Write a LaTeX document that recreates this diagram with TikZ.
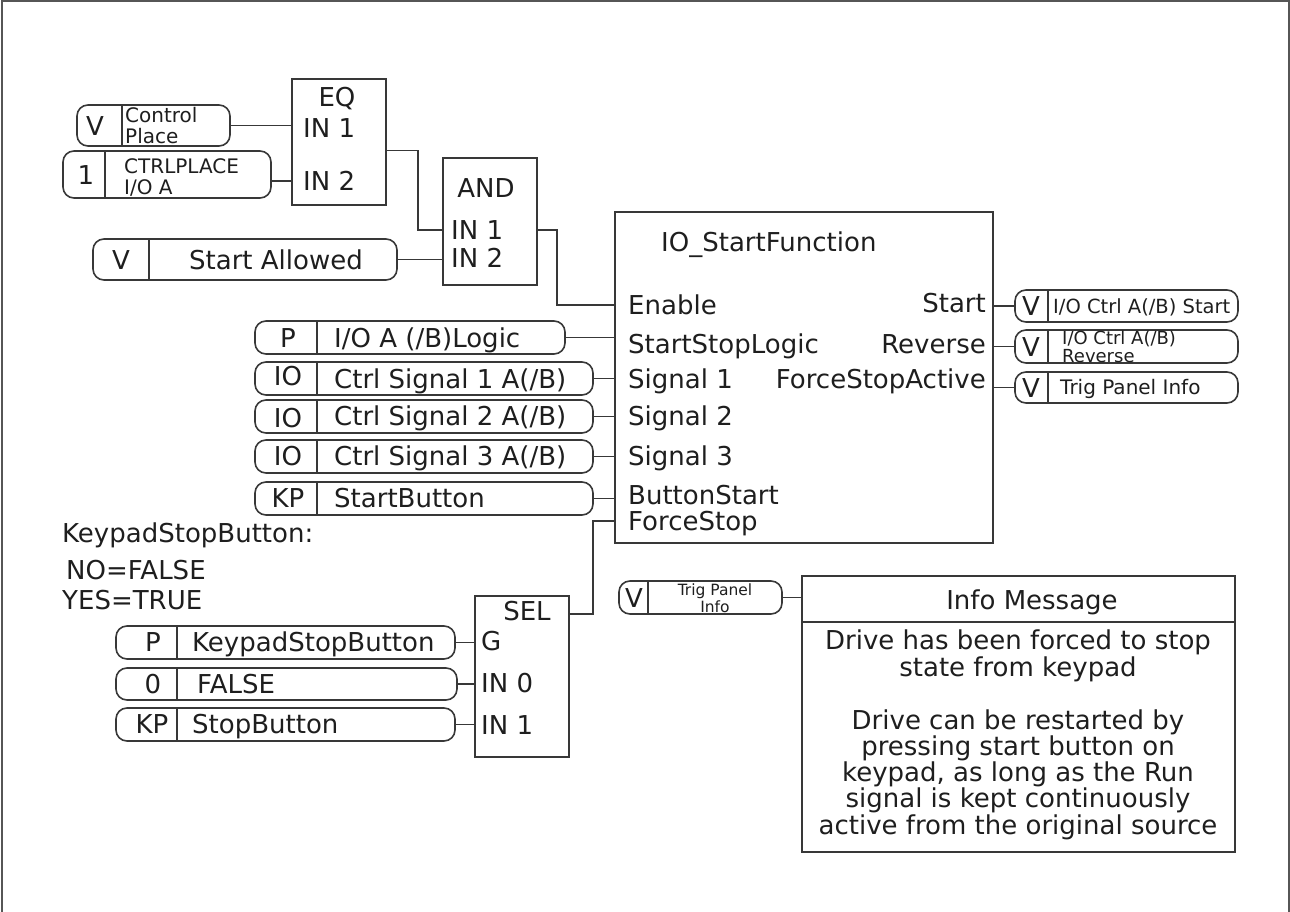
\documentclass[tikz,border=0pt]{standalone}
\usepackage{fontspec}
\setmainfont{DejaVu Sans}
\usetikzlibrary{calc}
\definecolor{ink}{HTML}{1E1E1E}
\definecolor{ln}{HTML}{383838}
\newcommand\fmain{\fontsize{26}{26}\selectfont}
\newcommand\fsmall{\fontsize{20}{20}\selectfont}
\newcommand\frev{\fontsize{18}{18}\selectfont}
\newcommand\fmid{\fontsize{19.5}{20}\selectfont}
\newcommand\ftiny{\fontsize{15.5}{15.5}\selectfont}
\newcommand\bx[6]{\node[#6, minimum width={#4-#2}, minimum height={#5-#3}] (#1) at ({(#2+#4)/2},{(#3+#5)/2}) {};}
\newcommand\pil[6]{\bx{#1}{#2}{#3}{#4}{#5}{pill}\draw[pl] ([xshift=#6pt]#1.north west) -- ([xshift=#6pt]#1.south west);}
\begin{document}
\begin{tikzpicture}[x=1pt,y=-1pt,
  blk/.style={draw=ln, line width=2.2pt, inner sep=0pt, outer sep=0pt},
  infobox/.style={draw=ln, line width=1.8pt, inner sep=0pt, outer sep=0pt},
  pill/.style={draw=ln, line width=1.6pt, rounded corners=11pt, inner sep=0pt, outer sep=0pt},
  wire/.style={draw=ln, line width=1.7pt},
  pl/.style={draw=ln, line width=1.3pt},
  frame/.style={draw=ln!85, line width=2pt},
  lbl/.style={inner sep=0pt, font=\fmain, text=ink, text height=19pt, text depth=0pt},
  slbl/.style={inner sep=0pt, font=\fsmall, text=ink, text height=14.5pt, text depth=0pt},
  rlbl/.style={inner sep=0pt, font=\frev, text=ink, text height=13.1pt, text depth=0pt},
  mlbl/.style={inner sep=0pt, font=\fmid, text=ink, text height=14.2pt, text depth=0pt},
  tlbl/.style={inner sep=0pt, font=\ftiny, text=ink, text height=11.3pt, text depth=0pt}]
\useasboundingbox (0,0) rectangle (1290,912);
\draw[frame] (1.5,912) -- (1.5,1.5) -- (1288.5,1.5) -- (1288.5,912);

% ---------- EQ block ----------
\bx{eq}{292}{79}{386}{205}{blk}
\node[lbl] (eqt) at (337,97) {EQ};
\node[lbl, anchor=west] (eqi1) at (303,128) {IN 1};
\node[lbl, anchor=west] (eqi2) at (303,181) {IN 2};

\pil{cp}{77}{105}{230}{146}{45}
\node[lbl] (cpt) at (95,126) {V};
\node[slbl, anchor=west] (cpl1) at (125,115.5) {Control};
\node[slbl, anchor=west] (cpl2) at (125,136.5) {Place};

\pil{cc}{63}{151}{271}{198}{42}
\node[lbl] (cct) at (86,175) {1};
\node[slbl, anchor=west] (ccl1) at (124,166.5) {CTRLPLACE};
\node[slbl, anchor=west] (ccl2) at (124,187.5) {I/O A};

\draw[wire] (cp.east) -- (cp.east -| eq.west);
\draw[wire] (cc.east |- eqi2.west) -- (eq.west |- eqi2.west);

% ---------- AND block ----------
\bx{and}{443}{158}{537}{285}{blk}
\node[lbl] (andt) at (486,188) {AND};
\node[lbl, anchor=west] (andi1) at (451,230) {IN 1};
\node[lbl, anchor=west] (andi2) at (451,258) {IN 2};

\pil{sa}{93}{239}{397}{280}{56}
\node[lbl] (sat) at (121,260) {V};
\node[lbl] (sal) at (276,260) {Start Allowed};

\draw[wire] ([yshift=-8.5pt]eq.east) -- ++(32,0) |- (and.west |- andi1.west);
\draw[wire] (sa.east) -- (sa.east -| and.west);

% ---------- IO_StartFunction ----------
\bx{io}{615}{212}{993}{543}{blk}
\node[lbl, anchor=west] (iot) at (661,242) {IO\_StartFunction};
\node[lbl, anchor=west] (ien) at (628,305) {Enable};
\node[lbl, anchor=west] (issl) at (628,344) {StartStopLogic};
\node[lbl, anchor=west] (is1) at (628,379) {Signal 1};
\node[lbl, anchor=west] (is2) at (628,416) {Signal 2};
\node[lbl, anchor=west] (is3) at (628,456) {Signal 3};
\node[lbl, anchor=west] (ibs) at (628,495) {ButtonStart};
\node[lbl, anchor=west] (ifs) at (628,521) {ForceStop};
\node[lbl, anchor=east] (ost) at (986,303) {Start};
\node[lbl, anchor=east] (orv) at (986,344) {Reverse};
\node[lbl, anchor=east] (ofa) at (986,379) {ForceStopActive};

\draw[wire] (and.east |- andi1.west) -- ++(20,0) |- (io.west |- ien.west);

% inputs
\pil{pl1}{255}{321}{565}{354}{62}
\node[lbl] (pl1t) at (288,338) {P};
\node[lbl, anchor=west] (pl1l) at (334,338) {I/O A (/B)Logic};
\pil{ps1}{255}{362}{593}{395}{62}
\node[lbl] (ps1t) at (288,376) {IO};
\node[lbl, anchor=west] (ps1l) at (334,379) {Ctrl Signal 1 A(/B)};
\pil{ps2}{255}{400}{593}{433}{62}
\node[lbl] (ps2t) at (288,418) {IO};
\node[lbl, anchor=west] (ps2l) at (334,416) {Ctrl Signal 2 A(/B)};
\pil{ps3}{255}{440}{593}{473}{62}
\node[lbl] (ps3t) at (288,456) {IO};
\node[lbl, anchor=west] (ps3l) at (334,456) {Ctrl Signal 3 A(/B)};
\pil{pkb}{255}{482}{593}{515}{62}
\node[lbl] (pkbt) at (288,498) {KP};
\node[lbl, anchor=west] (pkbl) at (334,498) {StartButton};

\draw[wire] (pl1.east) -- (pl1.east -| io.west);
\draw[wire] (ps1.east) -- (ps1.east -| io.west);
\draw[wire] (ps2.east) -- (ps2.east -| io.west);
\draw[wire] (ps3.east) -- (ps3.east -| io.west);
\draw[wire] (pkb.east) -- (pkb.east -| io.west);

% outputs
\pil{po1}{1015}{290}{1238}{322}{33}
\node[lbl] (po1t) at (1031,306) {V};
\node[mlbl, anchor=west] (po1l) at (1053,306) {I/O Ctrl A(/B) Start};
\pil{po2}{1015}{330}{1238}{363}{33}
\node[lbl] (po2t) at (1031,347) {V};
\node[rlbl, anchor=west] (po2l1) at (1062,337.5) {I/O Ctrl A(/B)};
\node[rlbl, anchor=west] (po2l2) at (1062,356) {Reverse};
\pil{po3}{1015}{372}{1238}{403}{33}
\node[lbl] (po3t) at (1031,388) {V};
\node[slbl, anchor=west] (po3l) at (1060,387) {Trig Panel Info};

\draw[wire] (io.east |- po1.west) -- (po1.west);
\draw[wire] (io.east |- po2.west) -- (po2.west);
\draw[wire] (io.east |- po3.west) -- (po3.west);

% ---------- SEL ----------
\node[lbl, anchor=west] (k1) at (62,533) {KeypadStopButton:};
\node[lbl, anchor=west] (k2) at (66,570) {NO=FALSE};
\node[lbl, anchor=west] (k3) at (62,600) {YES=TRUE};

\bx{sel}{475}{596}{569}{757}{blk}
\node[lbl] (selt) at (527,611) {SEL};
\node[lbl, anchor=west] (selg) at (481,641) {G};
\node[lbl, anchor=west] (sel0) at (481,683) {IN 0};
\node[lbl, anchor=west] (sel1) at (481,725) {IN 1};

\pil{pk}{116}{626}{455}{659}{61}
\node[lbl] (pkt) at (153,642) {P};
\node[lbl, anchor=west] (pkl) at (192,642) {KeypadStopButton};
\pil{pf}{116}{668}{457}{700}{61}
\node[lbl] (pft) at (153,684) {0};
\node[lbl, anchor=west] (pfl) at (197,684) {FALSE};
\pil{ps}{116}{708}{455}{741}{61}
\node[lbl] (pst) at (152,724) {KP};
\node[lbl, anchor=west] (psl) at (192,724) {StopButton};

\draw[wire] (pk.east) -- (pk.east -| sel.west);
\draw[wire] (pf.east) -- (pf.east -| sel.west);
\draw[wire] (ps.east) -- (ps.east -| sel.west);
\draw[wire] ([yshift=62.5pt]sel.east) -- ++(24,0) |- (io.west |- ifs.west);

% ---------- Info message ----------
\pil{vt}{619}{581}{782}{614}{29}
\node[lbl] (vtt) at (634,598) {V};
\node[tlbl] (vtl1) at (715,590) {Trig Panel};
\node[tlbl] (vtl2) at (715,607) {Info};

\bx{info}{802}{576}{1235}{852}{infobox}
\draw[pl] ([yshift=-46pt]info.north west) -- ([yshift=-46pt]info.north east);
\node[lbl] (imt) at (1032,600) {Info Message};
\node[lbl] (b1) at (1018,640) {Drive has been forced to stop};
\node[lbl] (b2) at (1018,667) {state from keypad};
\node[lbl] (b3) at (1018,720) {Drive can be restarted by};
\node[lbl] (b4) at (1018,746) {pressing start button on};
\node[lbl] (b5) at (1018,772) {keypad, as long as the Run};
\node[lbl] (b6) at (1018,798) {signal is kept continuously};
\node[lbl] (b7) at (1018,825) {active from the original source};

\draw[wire] (vt.east) -- (vt.east -| info.west);
\end{tikzpicture}
\end{document}
